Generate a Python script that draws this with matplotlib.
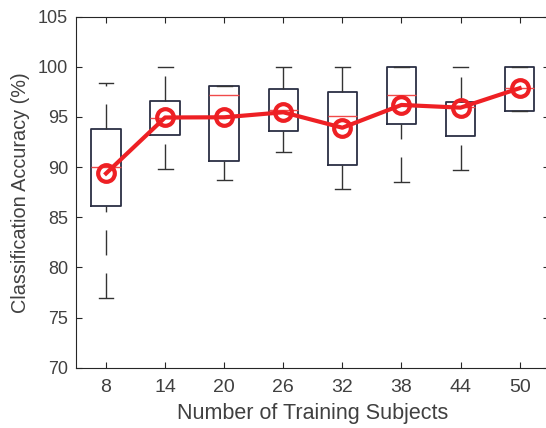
import numpy as np
import matplotlib.pyplot as plt

subjects = ['8', '14', '20', '26', '32', '38', '44', '50']
q1 = [86.1, 93.2, 90.6, 93.6, 90.2, 94.3, 93.1, 95.6]
med = [90.0, 94.9, 97.2, 95.7, 95.1, 97.2, 96.0, 97.9]
q3 = [93.8, 96.6, 98.1, 97.8, 97.5, 100.0, 96.5, 100.0]
whislo = [76.9, 89.8, 88.7, 91.5, 87.8, 88.5, 89.7, 95.6]
whishi = [98.4, 100.0, 98.1, 100.0, 100.0, 100.0, 100.0, 100.0]
means = [89.37, 94.95, 94.97, 95.47, 93.93, 96.2, 95.93, 97.87]

plt.rcParams['font.family'] = ['Liberation Sans', 'DejaVu Sans']
txt = '#404040'

stats = []
for i in range(len(subjects)):
    stats.append(dict(q1=q1[i], med=med[i], q3=q3[i], whislo=whislo[i],
                      whishi=whishi[i], fliers=[], label=subjects[i]))

fig = plt.figure(figsize=(5.46, 4.28), dpi=100)
ax = fig.add_axes([0.1401, 0.1409, 0.8657, 0.8201])

pos = np.arange(1, len(subjects) + 1)
bp = ax.bxp(stats, positions=pos, widths=0.5, capwidths=0.25, showfliers=False,
            boxprops=dict(color='#2b2f44', linewidth=1.3),
            medianprops=dict(color='#f04a4a', linewidth=1.0),
            whiskerprops=dict(color='#333333', linewidth=1.0, linestyle=(0, (18, 13))),
            capprops=dict(color='#333333', linewidth=1.0))

# draw whiskers from the low end upward so the dashes start there
for w in bp['whiskers']:
    xd, yd = w.get_data()
    order = np.argsort(yd)
    w.set_data(np.asarray(xd)[order], np.asarray(yd)[order])

ax.plot(pos, means, color='#ee2024', linewidth=3, marker='o', markersize=12,
        markerfacecolor='none', markeredgewidth=3, zorder=5)

ax.set_xlim(0.5, 8.5)
ax.set_ylim(70, 105)
ax.set_yticks(np.arange(70, 106, 5))
ax.set_xticks(pos)
ax.set_xticklabels(subjects)
ax.tick_params(direction='in', length=4, top=True, right=True, color='#262626',
               labelcolor=txt, labelsize=13, width=0.8)
ax.tick_params(axis='x', labelsize=14, pad=8)
ax.tick_params(axis='y', pad=6)
for s in ax.spines.values():
    s.set_color('#262626')
    s.set_linewidth(0.8)

ax.set_xlabel('Number of Training Subjects', fontsize=15.5, color=txt, labelpad=5)
ax.set_ylabel('Classification Accuracy (%)', fontsize=14.3, color=txt, labelpad=6)

fig.savefig('out.png', dpi=100)
